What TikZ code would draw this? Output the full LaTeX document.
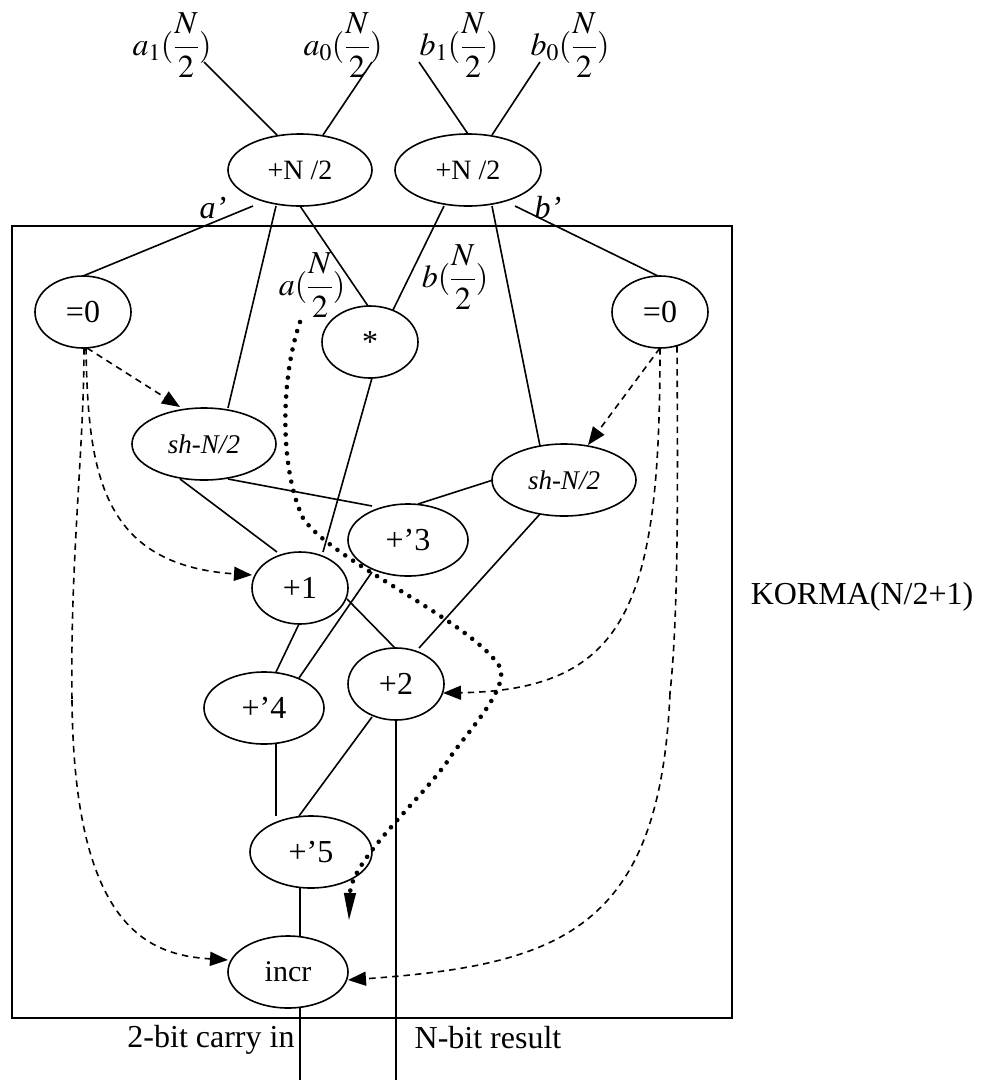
\documentclass[tikz,border=0pt]{standalone}
\usepackage{mathptmx}
\usepackage{fontspec}
\setmainfont{Liberation Serif}
\usetikzlibrary{shapes.geometric,arrows.meta,calc}
\begin{document}
\begin{tikzpicture}[x=1pt,y=-1pt,
  op/.style={draw, ellipse, line width=1.6pt, inner sep=0pt, minimum height=72pt, font=\fontsize{32}{38}\selectfont},
  lbl/.style={inner sep=0pt, font=\fontsize{32}{38}\selectfont},
  wire/.style={line width=1.6pt},
  dsh/.style={line width=1.6pt, dash pattern=on 6.5pt off 5pt, -{Triangle[length=18pt,width=14pt]}},
  dsh2/.style={line width=1.6pt, dash pattern=on 6.5pt off 5pt},
  dots/.style={line width=4.6pt, line cap=round, dash pattern=on 0pt off 9.5pt}]
\useasboundingbox (0,0) rectangle (983,1080);

% box
\node[draw, line width=1.9pt, minimum width=720pt, minimum height=792pt, inner sep=0pt] (box) at (372,622) {};

% operation nodes
\node[op, minimum width=144pt, font=\fontsize{28}{33}\selectfont] (topA) at (300,170) {+N /2};
\node[op, minimum width=146pt, font=\fontsize{28}{33}\selectfont] (topB) at (468,170) {+N /2};
\node[op, minimum width=96pt] (eqL) at (83,312) {=0};
\node[op, minimum width=96pt] (eqR) at (660,312) {=0};
\node[op, minimum width=96pt] (mul) at (370,342) {*};
\node[op, minimum width=144pt, font=\fontsize{27}{32}\selectfont\itshape] (shL) at (204,444) {sh-N/2};
\node[op, minimum width=144pt, font=\fontsize{27}{32}\selectfont\itshape] (shR) at (564,480) {sh-N/2};
\node[op, minimum width=120pt] (p3) at (408,540) {+’3};
\node[op, minimum width=96pt] (p1) at (300,588) {+1};
\node[op, minimum width=96pt] (p2) at (396,684) {+2};
\node[op, minimum width=120pt] (p4) at (264,708) {+’4};
\node[op, minimum width=122pt] (p5) at (311,852) {+’5};
\node[op, minimum width=120pt, font=\fontsize{30}{36}\selectfont] (incr) at (288,972) {incr};

% labels
\node[lbl] (a1) at (172,45) {$a_1(\displaystyle\frac{N}{2})$};
\node[lbl] (a0) at (343,45) {$a_0(\displaystyle\frac{N}{2})$};
\node[lbl] (b1) at (459,45) {$b_1(\displaystyle\frac{N}{2})$};
\node[lbl] (b0) at (570,45) {$b_0(\displaystyle\frac{N}{2})$};
\node[lbl] (ap) at (213,208) {\itshape a’};
\node[lbl] (bp) at (548,208) {\itshape b’};
\node[lbl] (aN) at (312,285) {$a(\displaystyle\frac{N}{2})$};
\node[lbl] (bN) at (455,277) {$b(\displaystyle\frac{N}{2})$};
\node[lbl] (korma) at (862,597) {KORMA(N/2+1)};
\node[lbl] (carry) at (211,1040) {2-bit carry in};
\node[lbl] (res) at (488,1038) {N-bit result};

\coordinate (out1) at (300,1080);
\coordinate (out2) at (396,1080);
\coordinate (dotend) at (349,920);

% inputs
\draw[wire] ($(a1)+(32,17)$) -- ($(topA)+(-23,-35)$);
\draw[wire] ($(a0)+(29,17)$) -- ($(topA)+(23,-35)$);
\draw[wire] ($(b1)+(-40,17)$) -- ($(topB)+(0,-36)$);
\draw[wire] ($(b0)+(-30,17)$) -- ($(topB)+(24,-35)$);

% from adders
\draw[wire] ($(topA)+(-47,36)$) -- ($(eqL)+(0,-36)$);
\draw[wire] ($(topA)+(-24,36)$) -- ($(shL)+(24,-36)$);
\draw[wire] ($(topA)+(0,36)$) -- ($(mul)+(-2,-36)$);
\draw[wire] ($(topB)+(-24,36)$) -- ($(mul)+(23,-32)$);
\draw[wire] ($(topB)+(24,36)$) -- ($(shR)+(-24,-34)$);
\draw[wire] ($(topB)+(47,36)$) -- ($(eqR)+(-2,-36)$);

% internal
\draw[wire] ($(mul)+(2,36)$) -- ($(p1)+(23,-36)$);
\draw[wire] ($(shL)+(-24,35)$) -- ($(p1)+(-23,-36)$);
\draw[wire] ($(shL)+(24,35)$) -- ($(p3)+(-36,-34)$);
\draw[wire] ($(shR)+(-71,0)$) -- ($(p3)+(10,-36)$);
\draw[wire] ($(shR)+(-24,34)$) -- ($(p2)+(23,-36)$);
\draw[wire] ($(p1)+(47,11)$) -- ($(p2)+(-1,-36)$);
\draw[wire] ($(p1)+(-1,36)$) -- ($(p4)+(12,-36)$);
\draw[wire] ($(p3)+(-36,32)$) -- ($(p4)+(35,-30)$);
\draw[wire] ($(p4)+(12,36)$) -- ($(p5)+(-35,-36)$);
\draw[wire] ($(p2)+(-24,33)$) -- ($(p5)+(-12,-36)$);
\draw[wire] ($(p5)+(-11,36)$) -- ($(incr)+(12,-35)$);
\draw[wire] ($(incr)+(12,36)$) -- (out1);
\draw[wire] ($(p2)+(0,36)$) -- (out2);

% dashed control arrows
\draw[dsh] ($(eqL)+(4,36)$) -- ($(shL)+(-24,-37)$);
\draw[dsh] ($(eqL)+(3,36)$) .. controls (88,470) and (100,565) .. ($(p1)+(-48,-13)$);
\draw[dsh2] ($(eqL)+(1,36)$) .. controls (84,450) and (70,560) .. (72,700);
\draw[dsh] (72,700) .. controls (74,930) and (150,955) .. ($(incr)+(-60,-12)$);
\draw[dsh] ($(eqR)+(0,36)$) -- ($(shR)+(24,-35)$);
\draw[dsh] ($(eqR)+(0,36)$) .. controls (660,600) and (630,690) .. ($(p2)+(47,9)$);
\draw[dsh2] ($(eqR)+(17,34)$) .. controls (678,500) and (678,620) .. (670,693);
\draw[dsh] (670,693) .. controls (660,930) and (560,965) .. ($(incr)+(60,8)$);

% dotted product path
\draw[dots] ($(aN)+(-12,37)$) .. controls (280,380) and (280,470) .. (303,518)
  .. controls (330,560) and (470,620) .. (500,667)
  .. controls (510,690) and (460,740) .. (447,762)
  .. controls (420,800) and (352,860) .. (350,893);
\draw[line width=1.2pt, -{Triangle[length=27pt,width=12pt]}] (350,892) -- (dotend);
\end{tikzpicture}
\end{document}
